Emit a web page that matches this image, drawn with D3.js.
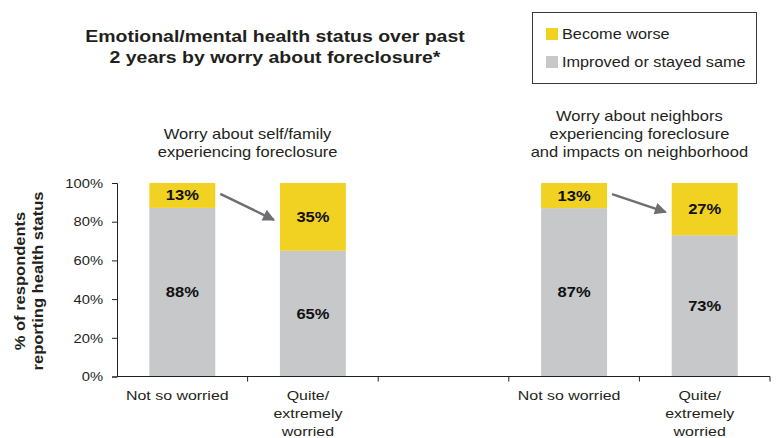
<!DOCTYPE html>
<html>
<head>
<meta charset="utf-8">
<script src="https://cdn.jsdelivr.net/npm/d3@7"></script>
<style>
  html, body { margin: 0; padding: 0; background: #ffffff; }
  svg { display: block; font-family: "Liberation Sans", Arial, Helvetica, sans-serif; }
</style>
</head>
<body>
<svg id="chart" width="776" height="438"></svg>
<script>
// ---- data ----
const title = ["Emotional/mental health status over past", "2 years by worry about foreclosure*"];
const groupLabels = [
  ["Worry about self/family", "experiencing foreclosure"],
  ["Worry about neighbors", "experiencing foreclosure", "and impacts on neighborhood"]
];
const categories = [["Not so worried"], ["Quite/", "extremely", "worried"]];
const seriesNames = ["Become worse", "Improved or stayed same"];
const worse    = [13, 35, 13, 27];
const improved = [88, 65, 87, 73];
const yTickValues = [0, 0.2, 0.4, 0.6, 0.8, 1.0];
const yTitle = ["% of respondents", "reporting health status"];

// ---- styles ----
const YELLOW = "#f1d122";
const GRAY = "#c7c8ca";
const ARROW = "#6d6e71";
const INK = "#231f20";
const S = 1.18; // horizontal text stretch

const svg = d3.select("#chart");

// slots: group0 cat0, group0 cat1, gap, group1 cat0, group1 cat1
const slots = ["0-0", "0-1", "gap", "1-0", "1-1"];
const barSlots = ["0-0", "0-1", "1-0", "1-1"];
const rows = barSlots.map((s, i) => ({ slot: s, improved: improved[i], worse: worse[i], cat: +s.split("-")[1] }));

const x = d3.scaleBand().domain(slots).range([117, 770]).padding(0);
const y = d3.scaleLinear().domain([0, 1]).range([376.5, 183]);
const barW = x.bandwidth() * 0.505;

const stacked = d3.stack().keys(["improved", "worse"]).offset(d3.stackOffsetExpand)(rows);
const color = { improved: GRAY, worse: YELLOW };

function stext(parent, tx, ty, str, o = {}) {
  const g = parent.append("g")
    .attr("transform", `translate(${tx},${ty})${o.rotate ? " rotate(-90)" : ""} scale(${S},1)`);
  return g.append("text")
    .attr("text-anchor", o.anchor || "middle")
    .attr("font-size", o.size || 14)
    .attr("font-weight", o.bold ? "bold" : "normal")
    .attr("fill", o.fill || INK)
    .attr("dy", o.dy || 0)
    .text(str);
}

// bars
stacked.forEach(layer => {
  svg.append("g").selectAll("rect").data(layer).join("rect")
    .attr("x", d => x(d.data.slot) + (x.bandwidth() - barW) / 2)
    .attr("width", barW)
    .attr("y", d => y(d[1]))
    .attr("height", d => y(d[0]) - y(d[1]))
    .attr("fill", color[layer.key]);
});

// bar value labels
stacked.forEach(layer => {
  layer.forEach(d => {
    const cx = x(d.data.slot) + x.bandwidth() / 2;
    const cy = (y(d[0]) + y(d[1])) / 2;
    stext(svg, cx, cy, d.data[layer.key] + "%", { bold: true, size: 14, dy: "0.36em", fill: "#111" });
  });
});

// arrows
const defs = svg.append("defs");
defs.append("marker").attr("id", "ah").attr("viewBox", "0 0 10 10")
  .attr("refX", 9).attr("refY", 5).attr("markerWidth", 6).attr("markerHeight", 5)
  .attr("markerUnits", "strokeWidth").attr("orient", "auto")
  .append("path").attr("d", "M0,0 L10,5 L0,10 Z").attr("fill", ARROW);

[[0, 1], [2, 3]].forEach(([a, b]) => {
  const da = stacked[1][a], db = stacked[1][b];
  const x1 = x(barSlots[a]) + (x.bandwidth() + barW) / 2 + 5;
  const y1 = (y(da[0]) + y(da[1])) / 2 - 1.5;
  const x2 = x(barSlots[b]) + (x.bandwidth() - barW) / 2 - 6;
  const y2 = (y(db[0]) + y(db[1])) / 2 + 3;
  svg.append("line").attr("x1", x1).attr("y1", y1).attr("x2", x2).attr("y2", y2)
    .attr("stroke", ARROW).attr("stroke-width", 2.4).attr("marker-end", "url(#ah)");
});

// axes
const yAxis = svg.append("g").attr("transform", `translate(${x.range()[0]},0)`)
  .call(d3.axisLeft(y).tickValues(yTickValues).tickFormat(d3.format(".0%")).tickSizeOuter(0).tickSize(5).tickPadding(0));
yAxis.select(".domain").attr("stroke", INK);
yAxis.selectAll(".tick line").attr("stroke", INK);
yAxis.selectAll(".tick text")
  .attr("x", -14 / S).attr("dy", "0.34em")
  .attr("font-family", null).attr("font-size", 12.5).attr("fill", INK)
  .attr("transform", `scale(${S},1)`);

const xAxis = svg.append("g").attr("transform", `translate(0,${y(0)})`);
xAxis.append("line").attr("x1", x.range()[0]).attr("x2", x.range()[1]).attr("stroke", INK);
const tickXs = slots.map(s => x(s)).concat([x.range()[1]]);
xAxis.selectAll("line.t").data(tickXs.slice(1)).join("line").attr("class", "t")
  .attr("x1", d => d).attr("x2", d => d).attr("y1", 0).attr("y2", 5).attr("stroke", INK);

// category labels
rows.forEach(r => {
  const cx = x(r.slot) + x.bandwidth() / 2 - 5;
  categories[r.cat].forEach((line, i) => {
    stext(svg, cx, 400 + i * 18, line, { size: 13.5 });
  });
});

// group labels
groupLabels.forEach((lines, gi) => {
  const a = x(gi + "-0") + x.bandwidth() / 2, b = x(gi + "-1") + x.bandwidth() / 2;
  const cx = (a + b) / 2;
  const n = lines.length;
  lines.forEach((line, i) => {
    stext(svg, cx, 157 - (n - 1 - i) * 18, line, { size: 14 });
  });
});

// title
title.forEach((line, i) => stext(svg, 275, 42 + i * 21, line, { size: 16.5, bold: true }));

// y title
yTitle.forEach((line, i) => stext(svg, 25 + i * 18, 281, line, { size: 14, bold: true, rotate: true }));

// legend
svg.append("rect").attr("x", 532.5).attr("y", 12.5).attr("width", 224).attr("height", 71)
  .attr("fill", "none").attr("stroke", "#3a3a3a").attr("stroke-width", 1);
const legendColors = [YELLOW, GRAY];
seriesNames.forEach((name, i) => {
  svg.append("rect").attr("x", 546).attr("y", 28 + i * 28).attr("width", 12).attr("height", 12)
    .attr("fill", legendColors[i]);
  stext(svg, 562, 39 + i * 28, name, { size: 13.8, anchor: "start" });
});
</script>
</body>
</html>
